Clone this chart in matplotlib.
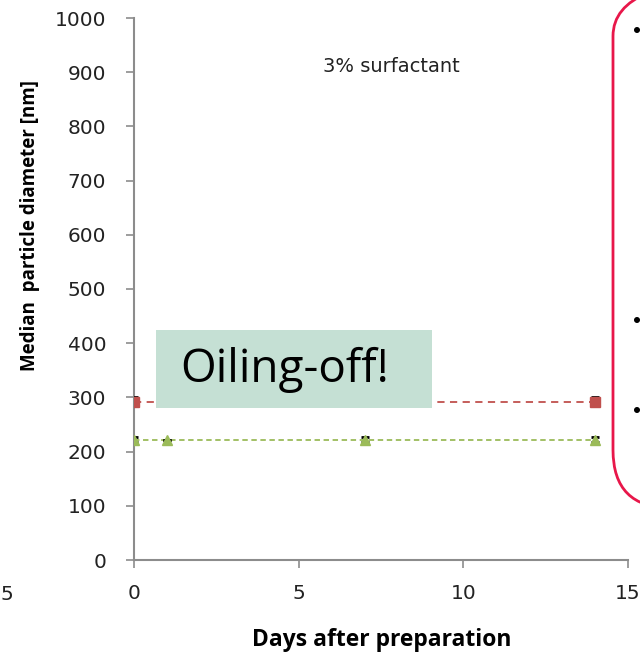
import matplotlib
matplotlib.use("Agg")
import matplotlib.pyplot as plt
from matplotlib.patches import FancyBboxPatch, Rectangle, Circle

# Data
days_red = [0, 14]
diam_red = [292, 292]
err_red = [8, 8]
days_green = [0, 1, 7, 14]
diam_green = [222, 222, 222, 222]
err_green = [5, 0, 5, 5]
xticks = [0, 5, 10, 15]
yticks = list(range(0, 1001, 100))

fig = plt.figure(figsize=(6.4, 6.56), dpi=100)
ax = fig.add_axes([134/640, 1-560/656, (628-134)/640, (560-18)/656])

ax.errorbar(days_red, diam_red, yerr=err_red, fmt='s', color='#C0504D', ms=7,
            ecolor='black', elinewidth=1, capsize=3, capthick=2, zorder=3)
ax.plot(days_red, diam_red, linestyle=(0, (4, 3)), color='#C0504D', lw=1.3, zorder=2)
ax.errorbar(days_green, diam_green, yerr=err_green, fmt='^', color='#9BBB59', ms=7,
            ecolor='black', elinewidth=1, capsize=3, capthick=2, zorder=3)
ax.plot(days_green, diam_green, linestyle=(0, (3, 2)), color='#9BBB59', lw=1.3, zorder=2)

ax.set_xlim(0, 15)
ax.set_ylim(0, 1000)
ax.set_xticks(xticks)
ax.set_yticks(yticks)
for s in ['top', 'right']:
    ax.spines[s].set_visible(False)
for s in ['left', 'bottom']:
    ax.spines[s].set_color('#8c8c8c')
    ax.spines[s].set_linewidth(1.5)
ax.tick_params(axis='both', colors='#8c8c8c', length=6, width=1.2, direction='out')
ax.tick_params(axis='both', labelcolor='#222222', labelsize=14.5)
ax.tick_params(axis='x', pad=11)
ax.tick_params(axis='y', pad=14)
for lab in ax.get_xticklabels() + ax.get_yticklabels():
    lab.set_family('DejaVu Sans')
ax.patch.set_visible(False)

ax.set_xlabel('Days after preparation', fontsize=16.5, fontweight='bold',
              family='Open Sans')
ax.set_ylabel('Median  particle diameter [nm]', fontsize=13.5, fontweight='bold',
              family='Open Sans')
ax.xaxis.set_label_coords((382-134)/(628-134), -(628-560)/542)
ax.yaxis.set_label_coords(-(134-40)/494, (560-226)/542)

ax.text(0.521, (560-66)/542, '3% surfactant', transform=ax.transAxes, ha='center',
        va='center', fontsize=14, family='DejaVu Sans', color='#222222')

# Stray tick label from neighbouring chart at left edge
fig.text(1/640, 1-595/656, '5', ha='left', va='center', fontsize=14.5,
         family='DejaVu Sans', color='#222222')

# Oiling-off box
fig.patches.append(Rectangle((156/640, 1-408/656), (432-156)/640, (408-330)/656,
                             transform=fig.transFigure, facecolor='#C5E0D4',
                             edgecolor='none', zorder=5))
fig.text(285/640, 1-370/656, 'Oiling-off!', ha='center', va='center', fontsize=33,
         family='Open Sans', color='black', zorder=6)

# Red rounded box on right (pixel -> inch coordinates)
fig.patches.append(FancyBboxPatch((6.13, (656-508)/100), 2.0, 5.3,
                                  boxstyle='round,pad=0,rounding_size=0.58',
                                  transform=fig.dpi_scale_trans, facecolor='none',
                                  edgecolor='#E8174A', linewidth=2, zorder=5))
for yb in [30, 320, 410]:
    fig.patches.append(Circle((6.37, (656-yb)/100), 0.03, transform=fig.dpi_scale_trans,
                              facecolor='black', edgecolor='none', zorder=6))

fig.savefig('out.png', dpi=100)
